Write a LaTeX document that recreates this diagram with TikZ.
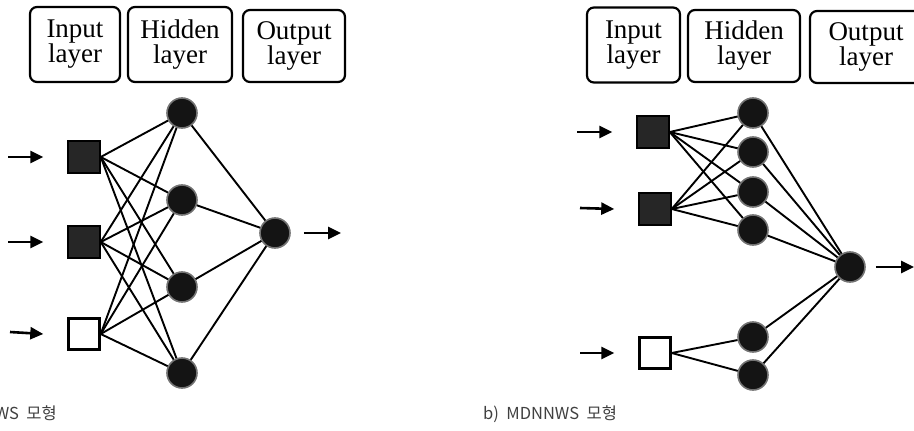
\documentclass[tikz,border=0pt]{standalone}
\usepackage{fontspec}
\setmainfont{Liberation Serif}
\newfontfamily\capfont{Noto Sans CJK KR}
\usetikzlibrary{arrows.meta}
\tikzset{
  layerbox/.style={draw, line width=2.2pt, rounded corners=7pt, minimum height=75pt,
    align=center, font=\fontsize{27}{25}\selectfont, inner sep=0pt},
  innode/.style={draw=black, line width=1.5pt, fill=black!85, minimum size=32pt, inner sep=0pt},
  emptynode/.style={draw=black, line width=2.4pt, fill=white, minimum size=31pt, inner sep=0pt},
  hid/.style={circle, draw=black!55, line width=1.6pt, fill=black!92, minimum size=30pt, inner sep=0pt},
  link/.style={line width=1.9pt},
  feed/.style={line width=2.6pt, -{Triangle[length=13pt,width=12pt]}},
  caption/.style={font=\capfont\fontsize{16.5}{16.5}\selectfont, text=black!75, inner sep=0pt}
}
\begin{document}
\begin{tikzpicture}[x=1pt,y=-1pt]
\useasboundingbox (0,0) rectangle (914,431);
\clip (0,0) rectangle (914,431);

% ---------------- left network ----------------
\node[layerbox, minimum width=90pt]  (la) at (75,44.5)  {Input\\layer};
\node[layerbox, minimum width=104pt] (lb) at (180,44.5) {Hidden\\layer};
\node[layerbox, minimum width=102pt, minimum height=72pt] (lc) at (294,46) {Output\\layer};

\node[innode]    (ai1) at (84,157) {};
\node[innode]    (ai2) at (84,242) {};
\node[emptynode] (ai3) at (84,334) {};

\node[hid] (ah1) at (182,113) {};
\node[hid] (ah2) at (182,200) {};
\node[hid] (ah3) at (182,287) {};
\node[hid] (ah4) at (182,373) {};

\node[hid] (ao) at (275,233) {};

\foreach \i in {1,2,3}{
  \foreach \h in {1,2,3,4}{
    \draw[link] (ai\i.east) -- (ah\h);
  }
}
\foreach \h in {1,2,3,4}{ \draw[link] (ah\h) -- (ao); }

\coordinate (aa1) at (8,157);
\coordinate (aa2) at (8,242);
\coordinate (aa3) at (10,332);
\coordinate (aout) at (341,233);
\draw[feed] (aa1) -- ([xshift=-24pt]ai1.west);
\draw[feed] (aa2) -- ([xshift=-24pt]ai2.west);
\draw[feed] (aa3) -- ([xshift=-24pt]ai3.west);
\draw[feed] ([xshift=13pt]ao.east) -- (aout);

\node[caption, anchor=base east] (capa) at (57,419) {a)\ \ DNNWS\ \ 모형};

% ---------------- right network ----------------
\node[layerbox, minimum width=93pt]  (ra) at (633.5,45) {Input\\layer};
\node[layerbox, minimum width=112pt, minimum height=72pt] (rb) at (744,46) {Hidden\\layer};
\node[layerbox, minimum width=112pt, minimum height=72pt] (rc) at (866,47) {Output\\layer};

\node[innode]    (bi1) at (653,132) {};
\node[innode]    (bi2) at (655,209) {};
\node[emptynode] (bi3) at (655,353) {};

\node[hid] (bh1) at (753,113) {};
\node[hid] (bh2) at (753,152) {};
\node[hid] (bh3) at (753,192) {};
\node[hid] (bh4) at (753,230) {};
\node[hid] (bh5) at (753,337) {};
\node[hid] (bh6) at (753,375) {};

\node[hid] (bo) at (850,267) {};

\foreach \i in {1,2}{
  \foreach \h in {1,2,3,4}{
    \draw[link] (bi\i.east) -- (bh\h);
  }
}
\draw[link] (bi3.east) -- (bh5);
\draw[link] (bi3.east) -- (bh6);
\foreach \h in {1,...,6}{ \draw[link] (bh\h) -- (bo); }

\coordinate (ba1) at (577,132);
\coordinate (ba2) at (580,208);
\coordinate (ba3) at (580,353);
\coordinate (bout) at (914,267);
\draw[feed] (ba1) -- ([xshift=-24pt]bi1.west);
\draw[feed] (ba2) -- ([xshift=-24pt]bi2.west);
\draw[feed] (ba3) -- ([xshift=-24pt]bi3.west);
\draw[feed] ([xshift=10pt]bo.east) -- (bout);

\node[caption, anchor=base west] (capb) at (483,419) {b)\ \ MDNNWS\ \ 모형};
\end{tikzpicture}
\end{document}
